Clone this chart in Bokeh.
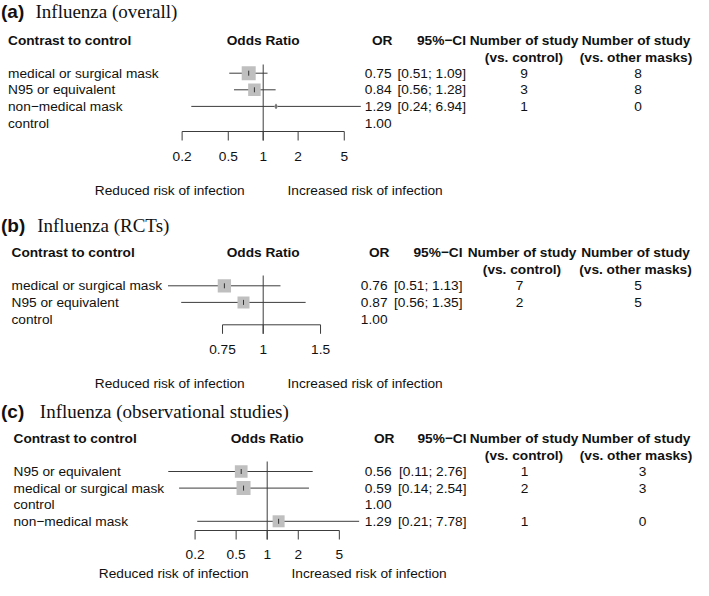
import math
from bokeh.plotting import figure
from bokeh.models import Range1d, LogScale
from bokeh.core.properties import value
from bokeh.embed import file_html
from bokeh.resources import INLINE

# ---------------- data ----------------
A_TITLE = "Influenza (overall)"
A_ROWS = ["medical or surgical mask", "N95 or equivalent", "non\u2212medical mask", "control"]
A_OR = [0.75, 0.84, 1.29, 1.00]
A_LO = [0.51, 0.56, 0.24, None]
A_HI = [1.09, 1.28, 6.94, None]
A_N_CTRL = [9, 3, 1, None]
A_N_OTHER = [8, 8, 0, None]
A_TICKS = [0.2, 0.5, 1, 2, 5]
A_TICK_LABELS = ["0.2", "0.5", "1", "2", "5"]

B_TITLE = "Influenza (RCTs)"
B_ROWS = ["medical or surgical mask", "N95 or equivalent", "control"]
B_OR = [0.76, 0.87, 1.00]
B_LO = [0.51, 0.56, None]
B_HI = [1.13, 1.35, None]
B_N_CTRL = [7, 2, None]
B_N_OTHER = [5, 5, None]
B_TICKS = [0.75, 1, 1.5]
B_TICK_LABELS = ["0.75", "1", "1.5"]

C_TITLE = "Influenza (observational studies)"
C_ROWS = ["N95 or equivalent", "medical or surgical mask", "control", "non\u2212medical mask"]
C_OR = [0.56, 0.59, 1.00, 1.29]
C_LO = [0.11, 0.14, None, 0.21]
C_HI = [2.76, 2.54, None, 7.78]
C_N_CTRL = [1, 2, None, 1]
C_N_OTHER = [3, 3, None, 0]
C_TICKS = [0.2, 0.5, 1, 2, 5]
C_TICK_LABELS = ["0.2", "0.5", "1", "2", "5"]

HEAD_LEFT = "Contrast to control"
HEAD_MID = "Odds Ratio"
HEAD_OR = "OR"
HEAD_CI = "95%\u2212CI"
HEAD_N = "Number of study"
HEAD_N1 = "(vs. control)"
HEAD_N2 = "(vs. other masks)"
NOTE_LEFT = "Reduced risk of infection"
NOTE_RIGHT = "Increased risk of infection"

# ---------------- layout / style (pixel coordinates of the picture) ----------------
W, H = 693, 580
X0, X1 = 0, W
SANS = "Liberation Sans"
SERIF = "Liberation Serif"
FS = "13.7px"
TFS = "19px"
STEP = 16.6
TICK_LEN = 9
LINE = "#3c3c3c"
TEXT = "#111111"
BOX = "#bfbfbf"

LAYOUT = {
    "a": dict(tag="(a)", tag_y=11, title_x=35, left=7.5, header_y=40, row0=72.7,
              center=262.7, ppd=116.0, axis_y=131, tick_y=156, note_y=189.5, ref_top=64,
              or_hdr=392, or_val=391, ci=465.5, c3_hdr=523.5, c3_val=523.5, c4_hdr=635.5, c4_val=637.5,
              squares=[14, 12.5, 3, None]),
    "b": dict(tag="(b)", tag_y=225, title_x=36.7, left=11, header_y=252, row0=285.3,
              center=262.7, ppd=325.6, axis_y=324.3, tick_y=349, note_y=382.7, ref_top=275,
              or_hdr=389, or_val=387, ci=462, c3_hdr=521.5, c3_val=519, c4_hdr=635, c4_val=637.5,
              squares=[13.3, 12, None]),
    "c": dict(tag="(c)", tag_y=411, title_x=39.3, left=13, header_y=438, row0=471,
              center=266.7, ppd=103.2, axis_y=530, tick_y=553.5, note_y=572.5, ref_top=461,
              or_hdr=394, or_val=391, ci=466, c3_hdr=523.5, c3_val=524, c4_hdr=635.5, c4_val=642,
              squares=[12.7, 14, None, 12]),
}

PANELS = [
    ("a", A_TITLE, A_ROWS, A_OR, A_LO, A_HI, A_N_CTRL, A_N_OTHER, A_TICKS, A_TICK_LABELS),
    ("b", B_TITLE, B_ROWS, B_OR, B_LO, B_HI, B_N_CTRL, B_N_OTHER, B_TICKS, B_TICK_LABELS),
    ("c", C_TITLE, C_ROWS, C_OR, C_LO, C_HI, C_N_CTRL, C_N_OTHER, C_TICKS, C_TICK_LABELS),
]

extra_ranges = {}
extra_scales = {}
for key, *_ in PANELS:
    L = LAYOUT[key]
    lo = 10 ** ((X0 - L["center"]) / L["ppd"])
    hi = 10 ** ((X1 - L["center"]) / L["ppd"])
    extra_ranges[key] = Range1d(lo, hi)
    extra_scales[key] = LogScale()

p = figure(width=W, height=H, output_backend="svg", toolbar_location=None,
           x_range=Range1d(X0, X1), y_range=Range1d(H, 0),
           x_axis_type=None, y_axis_type=None, min_border=0,
           extra_x_ranges=extra_ranges, extra_x_scales=extra_scales)
p.outline_line_color = None
p.background_fill_color = "white"
p.border_fill_color = "white"


def txt(xs, ys, texts, align="left", bold=False, font=SANS, size=FS, rng="default"):
    p.text(x=xs, y=ys, text=texts, text_font=value(font), text_font_size=size,
           text_font_style="bold" if bold else "normal", text_align=align,
           text_baseline="middle", text_color=TEXT, x_range_name=rng)


for key, title, rows, ors, los, his, nctrl, nother, ticks, tlabels in PANELS:
    L = LAYOUT[key]
    ys = [L["row0"] + i * STEP for i in range(len(rows))]
    hy = L["header_y"]

    # titles
    txt([0.5], [L["tag_y"]], [L["tag"]], bold=True, size=TFS)
    txt([L["title_x"]], [L["tag_y"]], [title], font=SERIF, size=TFS)

    # headers
    txt([L["left"]], [hy], [HEAD_LEFT], bold=True)
    txt([1], [hy], [HEAD_MID], align="center", bold=True, rng=key)
    txt([L["or_hdr"]], [hy], [HEAD_OR], align="right", bold=True)
    txt([L["ci"]], [hy], [HEAD_CI], align="right", bold=True)
    txt([L["c3_hdr"], L["c4_hdr"]], [hy, hy], [HEAD_N, HEAD_N], align="center", bold=True)
    txt([L["c3_hdr"], L["c4_hdr"]], [hy + STEP, hy + STEP], [HEAD_N1, HEAD_N2],
        align="center", bold=True)

    # row labels and table
    txt([L["left"]] * len(rows), ys, rows)
    txt([L["or_val"]] * len(rows), ys, [f"{v:.2f}" for v in ors], align="right")
    ci_y = [y for y, l in zip(ys, los) if l is not None]
    ci_t = [f"[{l:.2f}; {h:.2f}]" for l, h in zip(los, his) if l is not None]
    txt([L["ci"]] * len(ci_y), ci_y, ci_t, align="right")
    n_y = [y for y, n in zip(ys, nctrl) if n is not None]
    txt([L["c3_val"]] * len(n_y), n_y, [str(n) for n in nctrl if n is not None], align="center")
    txt([L["c4_val"]] * len(n_y), n_y, [str(n) for n in nother if n is not None], align="center")

    # reference line at OR = 1
    p.segment(x0=[1], x1=[1], y0=[L["ref_top"]], y1=[L["axis_y"] + TICK_LEN],
              line_color=LINE, line_width=1, x_range_name=key)

    # confidence intervals
    idx = [i for i, l in enumerate(los) if l is not None]
    p.segment(x0=[los[i] for i in idx], x1=[his[i] for i in idx],
              y0=[ys[i] for i in idx], y1=[ys[i] for i in idx],
              line_color=LINE, line_width=1, x_range_name=key)
    # squares (size ~ study weight)
    sq = [i for i in idx if L["squares"][i] is not None]
    p.scatter(x=[ors[i] for i in sq], y=[ys[i] for i in sq], marker="square",
              size=[L["squares"][i] for i in sq], fill_color=BOX, line_color=None,
              x_range_name=key)
    # point estimate tick
    p.segment(x0=[ors[i] for i in idx], x1=[ors[i] for i in idx],
              y0=[ys[i] - 2.5 for i in idx], y1=[ys[i] + 2.5 for i in idx],
              line_color="#333333", line_width=1, x_range_name=key)

    # x axis
    ay = L["axis_y"]
    p.segment(x0=[ticks[0]], x1=[ticks[-1]], y0=[ay], y1=[ay],
              line_color=LINE, line_width=1, x_range_name=key)
    p.segment(x0=ticks, x1=ticks, y0=[ay] * len(ticks), y1=[ay + TICK_LEN] * len(ticks),
              line_color=LINE, line_width=1, x_range_name=key)
    txt(ticks, [L["tick_y"]] * len(ticks), tlabels, align="center", rng=key)

    # direction notes
    txt([L["center"] - 18.5], [L["note_y"]], [NOTE_LEFT], align="right")
    txt([L["center"] + 24.3], [L["note_y"]], [NOTE_RIGHT], align="left")

open("out.html", "w").write(file_html(p, INLINE))
